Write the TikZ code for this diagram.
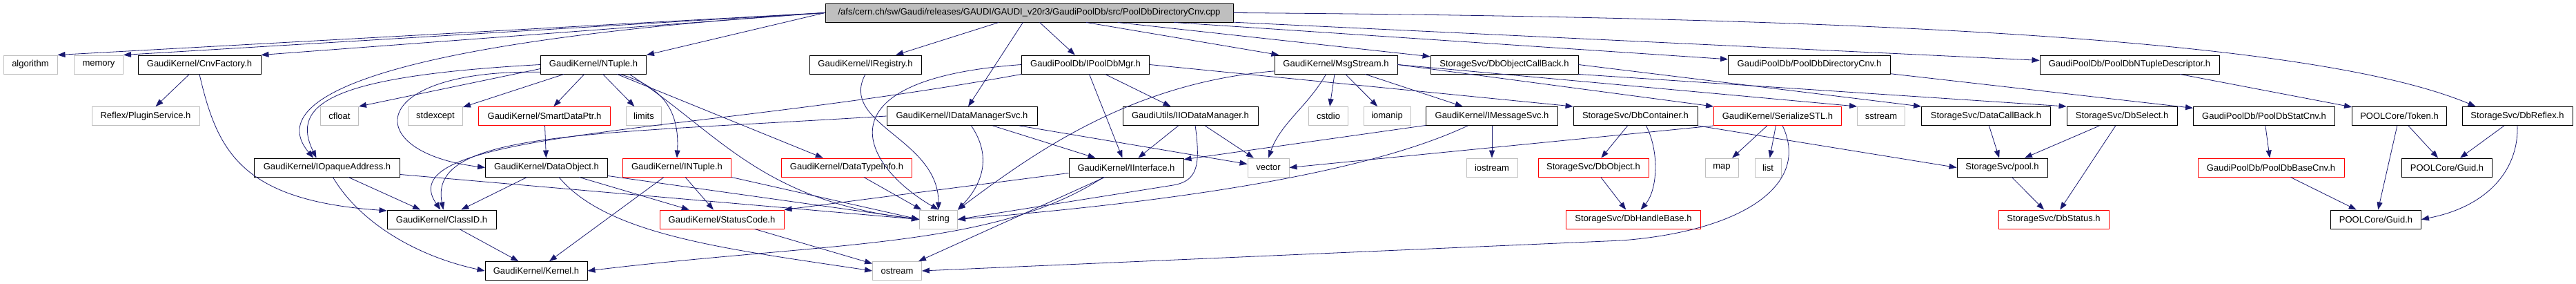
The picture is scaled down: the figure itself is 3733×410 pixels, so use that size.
\documentclass[tikz,border=0pt]{standalone}
\usepackage{fontspec}
\setmainfont{Liberation Sans}
\usepackage{tikz}
\usetikzlibrary{arrows.meta}
\definecolor{dxblue}{HTML}{191970}
\definecolor{dxgrey}{HTML}{BFBFBF}
\definecolor{dxred}{HTML}{FF0000}

\begin{document}
\begin{tikzpicture}[font=\fontsize{13}{15}\selectfont,x=1pt,y=-1pt,
  hdr/.style={draw=black,line width=0.9pt,minimum height=27pt,inner sep=2pt},
  sys/.style={hdr,draw=dxgrey},
  cut/.style={hdr,draw=dxred},
  inc/.style={draw=dxblue,line width=0.8pt,-{Triangle[length=11pt,width=8pt]}}]
  \useasboundingbox (0,0) rectangle (3733,410);
  \node[hdr,fill=dxgrey,minimum width=591pt] (root) at (1491.5,18.5) {/afs/cern.ch/sw/Gaudi/releases/GAUDI/GAUDI\_v20r3/GaudiPoolDb/src/PoolDbDirectoryCnv.cpp};
  \foreach \n/\x/\w/\s/\lbl in {algo/44/78/sys/algorithm,mem/143/71/sys/memory,cnvf/289/178/hdr/{GaudiKernel/CnvFactory.h},
      ntup/860/153/hdr/{GaudiKernel/NTuple.h},ireg/1254/162/hdr/{GaudiKernel/IRegistry.h},ipdm/1573/185/hdr/{GaudiPoolDb/IPoolDbMgr.h},
      msg/1936/178/hdr/{GaudiKernel/MsgStream.h},docb/2180/214/hdr/{StorageSvc/DbObjectCallBack.h},
      pdcnv/2622/235/hdr/{GaudiPoolDb/PoolDbDirectoryCnv.h},ntd/3086/260/hdr/{GaudiPoolDb/PoolDbNTupleDescriptor.h}}
    \node[\s,minimum width=\w pt] (\n) at (\x,93.5) {\lbl};
  \foreach \n/\x/\w/\s/\lbl in {refl/211/156/sys/{Reflex/PluginService.h},cflt/492/55/sys/cfloat,stdx/631/79/sys/stdexcept,
      sdp/789/191/cut/{GaudiKernel/SmartDataPtr.h},lim/933/51/sys/limits,idms/1394/218/hdr/{GaudiKernel/IDataManagerSvc.h},
      iiod/1725/196/hdr/{GaudiUtils/IIODataManager.h},cstd/1925/57/sys/cstdio,ioma/2010/68/sys/iomanip,
      imsg/2162/191/hdr/{GaudiKernel/IMessageSvc.h},dbc/2370/180/hdr/{StorageSvc/DbContainer.h},
      ser/2576/185/cut/{GaudiKernel/SerializeSTL.h},sstr/2726/69/sys/sstream,dcb/2878/187/hdr/{StorageSvc/DataCallBack.h},
      dbs/3075/160/hdr/{StorageSvc/DbSelect.h},stc/3281/205/hdr/{GaudiPoolDb/PoolDbStatCnv.h},
      tok/3477/137/hdr/{POOLCore/Token.h},dbr/3648/160/hdr/{StorageSvc/DbReflex.h}}
    \node[\s,minimum width=\w pt] (\n) at (\x,168) {\lbl};
  \foreach \n/\x/\w/\s/\lbl in {ioa/474/211/hdr/{GaudiKernel/IOpaqueAddress.h},dobj/792/177/hdr/{GaudiKernel/DataObject.h},
      intp/981/157/cut/{GaudiKernel/INTuple.h},dti/1227/189/cut/{GaudiKernel/DataTypeInfo.h},iif/1632/166/hdr/{GaudiKernel/IInterface.h},
      vec/1838/60/sys/vector,iost/2162/74/sys/iostream,dbo/2309/160/cut/{StorageSvc/DbObject.h},map/2495/48/sys/map,
      lst/2562/38/sys/list,pool/2901.5/131/hdr/{StorageSvc/pool.h},bcnv/3291/212/cut/{GaudiPoolDb/PoolDbBaseCnv.h},
      guida/3546/131/hdr/{POOLCore/Guid.h}}
    \node[\s,minimum width=\w pt] (\n) at (\x,242.5) {\lbl};
  \foreach \n/\x/\w/\s/\lbl in {clid/640/158/hdr/{GaudiKernel/ClassID.h},stat/1046/180/cut/{GaudiKernel/StatusCode.h},
      str/1360/55/sys/string,dbhb/2367/195/cut/{StorageSvc/DbHandleBase.h},dbst/2976/160/cut/{StorageSvc/DbStatus.h},
      guidb/3443/131/hdr/{POOLCore/Guid.h}}
    \node[\s,minimum width=\w pt] (\n) at (\x,317.5) {\lbl};
  \foreach \n/\x/\w/\s/\lbl in {kern/777/148/hdr/{GaudiKernel/Kernel.h},ostr/1300/71/sys/ostream}
    \node[\s,minimum width=\w pt] (\n) at (\x,392) {\lbl};

  \foreach \a/\b in {root/ireg,root/idms,root/ipdm,root/msg,root/docb,root/pdcnv,root/ntd,cnvf/refl,
      ntup/stdx,ntup/sdp,ntup/lim,ntup/dti,ipdm/iif,ipdm/iiod,msg/cstd,msg/ioma,msg/imsg,idms/iif,idms/vec,
      iiod/iif,iiod/vec,imsg/iif,imsg/iost,dbc/dbo,ser/map,ser/lst,dcb/pool,dbs/pool,dbs/dbst,pool/dbst,
      pdcnv/stc,stc/bcnv,bcnv/guidb,ntd/tok,tok/guida,tok/guidb,dbr/guida,ioa/clid,sdp/dobj,dobj/clid,
      dobj/stat,intp/kern,intp/stat,dti/str,clid/kern,iif/ostr,stat/ostr,dbo/dbhb}
    \draw[inc] (\a) -- (\b);
  \draw[inc] (root.west) -- (algo.north east);
  \draw[inc] (root.west) -- (mem.north east);
  \draw[inc] (root.west) -- (cnvf.north east);
  \draw[inc] (root.west) -- (ntup.north east);
  \draw[inc] (root.west) .. controls (560,60) and (380,140) .. (ioa.145);
  \draw[inc] (root.east) .. controls (2700,25) and (3350,55) .. (dbr.167);
  \draw[inc] (ntup.west) .. controls (480,110) and (420,150) .. (ioa.138);
  \draw[inc] ([yshift=-6pt]ntup.west) -- (cflt.north east);
  \draw[inc] (ntup.188) .. controls (530,100) and (520,220) .. (dobj.west);
  \draw[inc] (ntup.-20) .. controls (960,125) and (985,160) .. (intp.north);
  \draw[inc] (ntup.-15) .. controls (1040,190) and (1100,290) .. (str.west);
  \draw[inc] (cnvf.south) .. controls (315,220) and (350,290) .. (clid.171);
  \draw[inc] (ioa.-59) .. controls (520,320) and (600,370) .. (kern.west);
  \draw[inc] ([yshift=-10pt]ioa.east) -- (str.west);
  \draw[inc] ([yshift=-12pt]dobj.east) -- (str.west);
  \draw[inc] ([xshift=18pt]dobj.south) .. controls (880,340) and (1050,360) .. (ostr.west);
  \draw[inc] (intp.south east) -- (str.west);
  \draw[inc] (idms.west) .. controls (850,195) and (620,190) .. (clid.80);
  \draw[inc] (ipdm.south west) .. controls (1000,195) and (560,190) .. (clid.97);
  \draw[inc] (ipdm.west) .. controls (1180,115) and (1250,240) .. (str.north);
  \draw[inc] (ireg.south) .. controls (1215,180) and (1360,200) .. (str.north);
  \draw[inc] (idms.-46) .. controls (1440,230) and (1420,270) .. (str.north east);
  \draw[inc] (msg.224) .. controls (1895,154) and (1856,178) .. (vec.north);
  \draw[inc] (msg.186) .. controls (1640,120) and (1500,220) .. (str.north east);
  \draw[inc] (msg.east) -- (ser.north west);
  \draw[inc] (msg.east) -- (sstr.north west);
  \draw[inc] ([xshift=-35pt]imsg.south) .. controls (1950,265) and (1600,300) .. (str.east);
  \draw[inc] (ser.south west) -- (vec.east);
  \draw[inc] (ser.-63) .. controls (2625,270) and (2520,335) .. (2350,348) -- (ostr.east);
  \draw[inc] (iiod.-63) .. controls (1740,240) and (1735,262) .. (1700,268) -- (str.east);
  \draw[inc] (ipdm.east) -- (dbc.north west);
  \draw[inc] (dbc.-42) .. controls (2405,220) and (2402,275) .. (dbhb.53);
  \draw[inc] (dbc.south east) -- (pool.west);
  \draw[inc] (docb.east) -- (dcb.north west);
  \draw[inc] (docb.south east) -- (dbs.north west);
  \draw[inc] ([yshift=-8pt]iif.west) -- (stat.north east);
  \draw[inc] (iif.203) .. controls (1440,360) and (1200,350) .. (kern.east);
  \draw[inc] (dbr.south) .. controls (3650,250) and (3600,300) .. (guidb.east);
\end{tikzpicture}
\end{document}
